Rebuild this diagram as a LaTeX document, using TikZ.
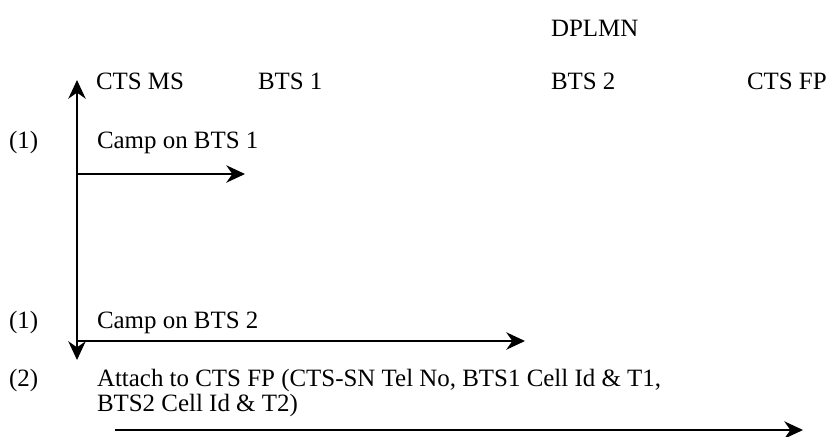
\documentclass[tikz,border=0pt]{standalone}
\usepackage{fontspec}
\setmainfont{Liberation Serif}
\usetikzlibrary{arrows.meta}
\begin{document}
\begin{tikzpicture}[x=0.75pt,y=-0.75pt,
  lbl/.style={anchor=base west,inner sep=0pt,outer sep=0pt,
    font=\fontsize{18.7pt}{18pt}\selectfont},
  tip/.tip={Stealth[length=14pt,width=13pt,inset=4.5pt]},
  msg/.style={line width=1.5pt,-tip},
  life/.style={line width=1.5pt,tip-tip}]
\useasboundingbox (0,0) rectangle (831,436);

% column headings
\node[lbl] (dplmn) at (551,36) {DPLMN};
\node[lbl] (ctsms) at (96,89) {CTS MS};
\node[lbl] (bts1) at (258,89) {BTS 1};
\node[lbl] (bts2) at (551,89) {BTS 2};
\node[lbl] (ctsfp) at (747,89) {CTS FP};

% step numbers and message labels
\node[lbl] (n1) at (9,148) {(1)};
\node[lbl] (m1) at (97,148) {Camp on BTS 1};
\node[lbl] (n2) at (9,328) {(1)};
\node[lbl] (m2) at (97,328) {Camp on BTS 2};
\node[lbl] (n3) at (9,386) {(2)};
\node[lbl] (m3) at (97,386) {Attach to CTS FP (CTS-SN Tel No, BTS1 Cell Id \& T1,};
\node[lbl] (m3b) at (97,411) {BTS2 Cell Id \& T2)};

% lifeline of the mobile station
\coordinate (lifetop) at (77,80);
\coordinate (lifebot) at (77,360);
\draw[life] (lifebot) -- (lifetop);

% message arrows
\coordinate (s1) at (77,174);
\coordinate (e1) at (245,174);
\coordinate (s2) at (77,341);
\coordinate (e2) at (525,341);
\coordinate (s3) at (115,430);
\coordinate (e3) at (803,430);
\draw[msg] (s1) -- (e1);
\draw[msg] (s2) -- (e2);
\draw[msg] (s3) -- (e3);
\end{tikzpicture}
\end{document}
